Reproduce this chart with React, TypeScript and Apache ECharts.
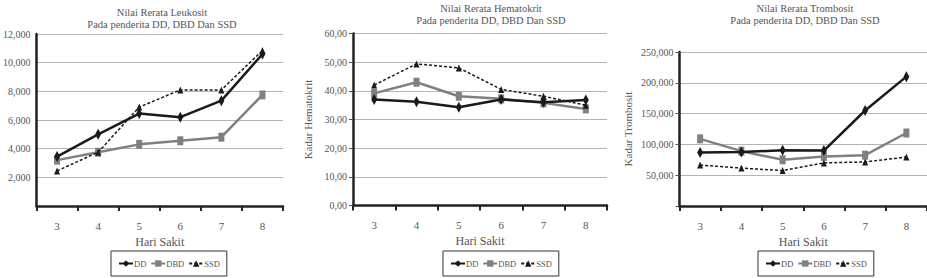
import React, { useEffect, useRef } from "react";
import * as echarts from "echarts";

const days = ["3", "4", "5", "6", "7", "8"];
const seriesNames = ["DD", "DBD", "SSD"];

const leuDD = [3450, 5000, 6450, 6200, 7350, 10600];
const leuDBD = [3200, 3750, 4300, 4550, 4800, 7750];
const leuSSD = [2450, 3750, 6900, 8100, 8100, 10850];

const hctDD = [37.0, 36.2, 34.3, 37.0, 36.0, 36.8];
const hctDBD = [39.1, 43.0, 38.1, 37.2, 35.8, 33.7];
const hctSSD = [42.0, 49.4, 48.0, 40.5, 38.1, 35.0];

const trDD = [87000, 87500, 90500, 90000, 155000, 210000];
const trDBD = [109000, 89000, 75000, 80500, 82500, 118500];
const trSSD = [66500, 61500, 57500, 70000, 71500, 79500];

const titles = [
  "Nilai Rerata Leukosit\nPada penderita DD, DBD Dan SSD",
  "Nilai Rerata Hematokrit\nPada penderita DD, DBD Dan SSD",
  "Nilai Rerata Trombosit\nPada penderita DD, DBD Dan SSD",
];
const yNames = ["", "Kadar Hematokrit", "Kadar Trombosit"];
const xName = "Hari Sakit";

const FONT = "Liberation Serif";
const TXT = "#555";

export default function App() {
  const ref = useRef<HTMLDivElement>(null);
  useEffect(() => {
    const chart = echarts.init(ref.current!, null, { renderer: "svg" });

    const grids = [
      { left: 31, top: 34, width: 252, height: 172 },
      { left: 353, top: 33.5, width: 254, height: 172 },
      { left: 679.5, top: 52, width: 248, height: 154 },
    ];
    const yCfg = [
      { min: 0, max: 12000, interval: 2000, fmt: (v: number) => (v === 0 ? "" : v.toLocaleString("en-US")) },
      { min: 0, max: 60, interval: 10, fmt: (v: number) => v.toFixed(2).replace(".", ",") },
      { min: 0, max: 250000, interval: 50000, fmt: (v: number) => (v === 0 ? "" : v.toLocaleString("en-US")) },
    ];
    const data = [
      [leuDD, leuDBD, leuSSD],
      [hctDD, hctDBD, hctSSD],
      [trDD, trDBD, trSSD],
    ];
    const titleX = [157, 486, 800];
    const titleTop = [1, -3, -3];
    const legendLeft = [111, 443, 758];
    const yNameGap = [40, 40, 46];

    const series: any[] = [];
    data.forEach((set, gi) => {
      set.forEach((vals, si) => {
        const base: any = {
          type: "line",
          name: seriesNames[si],
          xAxisIndex: gi,
          yAxisIndex: gi,
          data: vals,
          z: si === 0 ? 4 : si === 1 ? 3 : 5,
        };
        if (si === 0) {
          Object.assign(base, {
            lineStyle: { color: "#1a1a1a", width: 2.5 },
            itemStyle: { color: "#1a1a1a" },
            symbol: "diamond",
            symbolSize: [6, 11],
          });
        } else if (si === 1) {
          Object.assign(base, {
            lineStyle: { color: "#808080", width: 2.5 },
            itemStyle: { color: "#808080" },
            symbol: "rect",
            symbolSize: [6, 9],
          });
        } else {
          Object.assign(base, {
            lineStyle: { color: "#1a1a1a", width: 1.5, type: [3, 2] },
            itemStyle: { color: "#1a1a1a" },
            symbol: "triangle",
            symbolSize: [6, 7],
          });
        }
        series.push(base);
      });
    });

    chart.setOption({
      animation: false,
      backgroundColor: "#fff",
      textStyle: { fontFamily: FONT },
      title: titles.map((t, i) => ({
        text: t,
        left: titleX[i],
        top: titleTop[i],
        textAlign: "center",
        textStyle: { fontFamily: FONT, fontSize: 10.5, fontWeight: "normal", color: TXT, lineHeight: 12 },
      })),
      grid: grids,
      legend: legendLeft.map((l) => ({
        data: seriesNames,
        left: l,
        top: 251,
        orient: "horizontal",
        borderColor: "#333",
        borderWidth: 1,
        padding: [8, 7],
        itemGap: 4,
        itemWidth: 14,
        itemHeight: 8,
        textStyle: { fontFamily: FONT, fontSize: 8.5, color: TXT, padding: [0, 0, 0, -4] },
      })),
      xAxis: grids.map((_, i) => ({
        type: "category",
        gridIndex: i,
        data: days,
        boundaryGap: true,
        name: xName,
        nameLocation: "middle",
        nameGap: 27,
        nameTextStyle: { fontFamily: FONT, fontSize: 12, color: TXT },
        axisLine: { lineStyle: { color: "#222", width: 2.5 } },
        axisTick: { show: true, length: 5, lineStyle: { color: "#222", width: 2 } },
        axisLabel: { fontFamily: FONT, fontSize: 11, color: TXT, margin: 14 },
        splitLine: { show: false },
      })),
      yAxis: yCfg.map((c, i) => ({
        type: "value",
        gridIndex: i,
        min: c.min,
        max: c.max,
        interval: c.interval,
        name: yNames[i],
        nameLocation: "middle",
        nameGap: yNameGap[i],
        nameRotate: 90,
        nameTextStyle: { fontFamily: FONT, fontSize: 11, color: TXT },
        axisLine: { show: true, lineStyle: { color: "#222", width: 2.5 } },
        axisTick: { show: i !== 0, length: 4, lineStyle: { color: "#555", width: 1 } },
        axisLabel: { fontFamily: FONT, fontSize: 10, color: TXT, margin: 6, formatter: c.fmt },
        splitLine: { show: true, lineStyle: { color: "#b4b4b4", width: 1 } },
      })),
      series,
    });
    return () => chart.dispose();
  }, []);
  return <div ref={ref} style={{ position: "fixed", left: 0, top: 0, width: 927, height: 278 }} />;
}
